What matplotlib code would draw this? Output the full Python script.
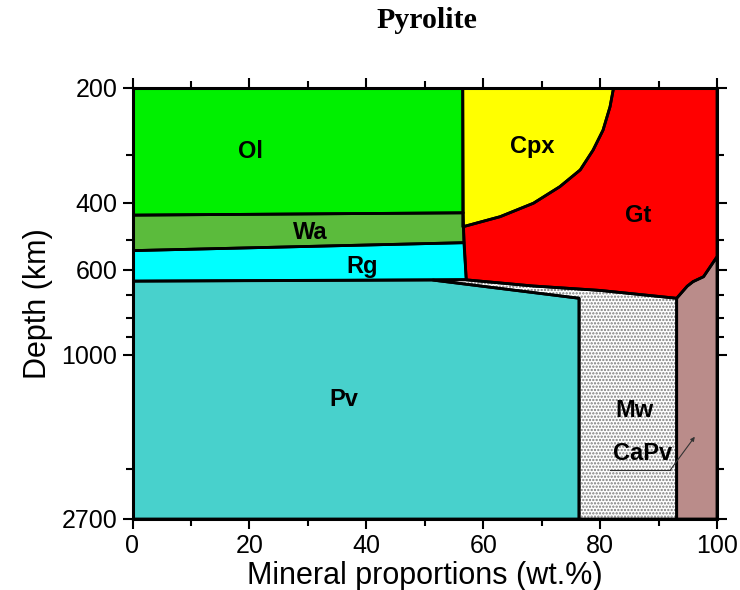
import matplotlib
matplotlib.use("Agg")
import matplotlib.pyplot as plt
from matplotlib.patches import Polygon

# ---------------- data (x in wt.%, depth in km) ----------------
ol_x = [0, 56.5, 56.6, 0]
ol_depth = [200, 200, 425, 431]

wa_x = [0, 56.6, 56.7, 0]
wa_depth = [431, 425, 509, 534]

rg_x = [0, 56.7, 57.1, 0]
rg_depth = [534, 509, 636, 642]

cpx_curve_x = [56.6, 62.9, 68.6, 73.1, 76.6, 78.8, 80.5, 81.7, 82.3]
cpx_curve_depth = [462, 435, 401, 363, 328, 291, 258, 224, 200]

gt_bottom_x = [57.1, 68.5, 80.0, 93.1]
gt_bottom_depth = [637, 661, 679, 712]

capv_top_x = [93.1, 94.9, 95.9, 97.7, 100]
capv_top_depth = [712, 662, 644, 625, 554]

pv_top_x = [0, 51.4, 76.4]
pv_top_depth = [642, 638, 712]

pv_right_x = 76.4
mw_right_x = 93.1
depth_bottom = 2700
depth_top = 200

labels = ["Ol", "Cpx", "Gt", "Wa", "Rg", "Pv", "Mw", "CaPv"]
label_x = [20.1, 68.4, 86.5, 30.4, 39.3, 36.2, 85.8, 87.3]
label_depth = [294, 284, 433, 480, 586, 1316, 1398, 1823]

y_major = [200, 400, 600, 1000, 2700]
y_minor = [300, 500, 700, 800, 900, 2000]
x_major = [0, 20, 40, 60, 80, 100]
x_minor = [10, 30, 50, 70, 90]

colors = {
    "Ol": "#00F000", "Wa": "#5BBB3C", "Rg": "#00FFFF", "Cpx": "#FFFF00",
    "Gt": "#FF0000", "Pv": "#48D1CC", "CaPv": "#BA8C8A", "Mw": "#FFFFFF",
}

# ---------------- figure ----------------
plt.rcParams['font.family'] = ['Liberation Sans', 'DejaVu Sans']
plt.rcParams['hatch.linewidth'] = 1.1
fig = plt.figure(figsize=(7.4, 5.9), dpi=100)
ax = fig.add_axes([132.5 / 740, 1 - 519 / 590, (717 - 132.5) / 740, (519 - 88) / 590])
ax.set_yscale('log')
ax.set_xlim(0, 100)
ax.set_ylim(depth_bottom, depth_top)

def poly(xs, ds, key, hatch=None):
    pts = list(zip(xs, ds))
    if hatch:
        p = Polygon(pts, closed=True, facecolor=colors[key], edgecolor='#7a7a7a',
                    hatch=hatch, linewidth=0, zorder=1)
    else:
        p = Polygon(pts, closed=True, facecolor=colors[key], edgecolor='none',
                    linewidth=0, zorder=1)
    ax.add_patch(p)
    ax.add_patch(Polygon(pts, closed=True, facecolor='none', edgecolor='black',
                         linewidth=2.0, joinstyle='round', zorder=3))

# Mw (stippled)
mw_x = [pv_top_x[1]] + gt_bottom_x + [mw_right_x, pv_right_x, pv_right_x]
mw_d = [pv_top_depth[1]] + gt_bottom_depth + [depth_bottom, depth_bottom, pv_top_depth[2]]
poly(mw_x, mw_d, "Mw", hatch='.....')

poly(ol_x, ol_depth, "Ol")
poly(wa_x, wa_depth, "Wa")
poly(rg_x, rg_depth, "Rg")

cpx_x = [ol_x[1], ol_x[1]] + cpx_curve_x
cpx_d = [depth_top, cpx_curve_depth[0]] + cpx_curve_depth
poly(cpx_x, cpx_d, "Cpx")

gt_x = [100, 100] + capv_top_x[::-1][1:] + gt_bottom_x[::-1] + cpx_curve_x
gt_d = [depth_top, capv_top_depth[-1]] + capv_top_depth[::-1][1:] + gt_bottom_depth[::-1] + cpx_curve_depth
poly(gt_x, gt_d, "Gt")

pv_x = pv_top_x + [pv_right_x, 0]
pv_d = pv_top_depth + [depth_bottom, depth_bottom]
poly(pv_x, pv_d, "Pv")

capv_x = capv_top_x + [100, mw_right_x]
capv_d = capv_top_depth + [depth_bottom, depth_bottom]
poly(capv_x, capv_d, "CaPv")

for lab, lx, ld in zip(labels, label_x, label_depth):
    ax.text(lx, ld, lab, ha='center', va='center', fontsize=17,
            fontweight='bold', color='black', zorder=5)

# CaPv pointer: underline and arrow into the CaPv field
ax.plot([81.7, 92.0], [2009, 2009], color='#333333', linewidth=0.8, zorder=5)
ax.annotate("", xy=(96.2, 1643), xytext=(92.0, 2009),
            arrowprops=dict(arrowstyle='-|>', color='#333333', lw=0.8,
                            mutation_scale=6, shrinkA=0, shrinkB=0), zorder=5)

# ticks
ax.set_yticks(y_major)
ax.set_yticklabels([str(v) for v in y_major])
ax.set_yticks(y_minor, minor=True)
ax.set_yticklabels([], minor=True)
ax.set_xticks(x_major)
ax.set_xticklabels([str(v) for v in x_major])
ax.set_xticks(x_minor, minor=True)
ax.tick_params(which='both', direction='out', top=True, right=True,
               labeltop=False, labelright=False, width=1.5, color='black')
ax.tick_params(which='major', length=7, labelsize=18, pad=4)
ax.tick_params(which='minor', length=5)
for s in ax.spines.values():
    s.set_linewidth(2.2)
    s.set_zorder(6)

ax.set_xlabel("Mineral proportions (wt.%)", fontsize=22, labelpad=2)
ax.set_ylabel("Depth (km)", fontsize=22, labelpad=6)

fig.text(426.5 / 740, 1 - 20 / 590, "Pyrolite", ha='center', va='center',
         fontsize=21.5, fontweight='bold', family=['Liberation Serif', 'DejaVu Serif'])

fig.savefig("out.png", dpi=100)
